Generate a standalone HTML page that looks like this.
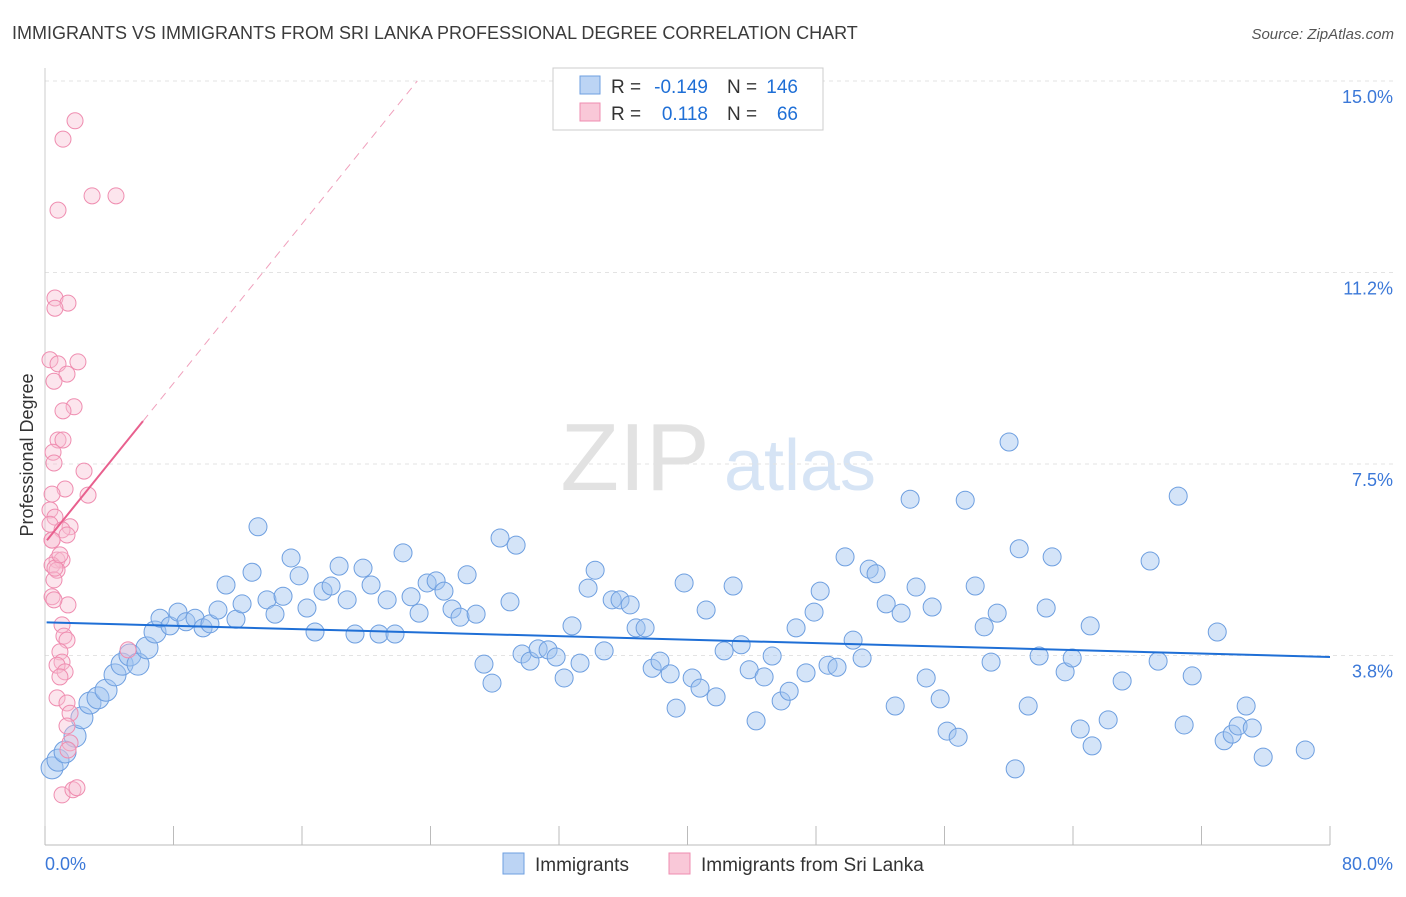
<!DOCTYPE html>
<html><head><meta charset="utf-8"><style>
body{margin:0;background:#fff;font-family:"Liberation Sans",sans-serif;}
svg text{font-family:"Liberation Sans",sans-serif;}
</style></head><body>
<svg id="chart" width="1406" height="892" xmlns="http://www.w3.org/2000/svg">
<text x="12" y="39" font-size="18" fill="#3b3b3b">IMMIGRANTS VS IMMIGRANTS FROM SRI LANKA PROFESSIONAL DEGREE CORRELATION CHART</text>
<text x="1394" y="39" font-size="15" fill="#555" text-anchor="end" font-style="italic">Source: ZipAtlas.com</text>
<g>
<text x="635" y="490" font-size="96" fill="#e2e2e2" text-anchor="middle" font-family="Liberation Serif">ZIP</text>
<text x="800" y="490" font-size="72" fill="#d6e4f5" text-anchor="middle">atlas</text>
</g>
<g id="grid"></g>
<g id="axes"></g>
<g id="marks"></g>
<text transform="translate(33,455) rotate(-90)" font-size="18" fill="#333" text-anchor="middle">Professional Degree</text>
<g>
<rect x="553" y="68" width="270" height="62" fill="#fff" stroke="#ccc"/>
<rect x="580" y="76" width="20" height="18" fill="#bcd4f4" stroke="#6e9fe0"/>
<rect x="580" y="103" width="20" height="18" fill="#f9c8d8" stroke="#ef8db0"/>
<text x="611" y="93" font-size="19" fill="#333">R =</text>
<text x="708" y="93" font-size="19" fill="#1f6fd6" text-anchor="end">-0.149</text>
<text x="727" y="93" font-size="19" fill="#333">N =</text>
<text x="798" y="93" font-size="19" fill="#1f6fd6" text-anchor="end">146</text>
<text x="611" y="120" font-size="19" fill="#333">R =</text>
<text x="708" y="120" font-size="19" fill="#1f6fd6" text-anchor="end">0.118</text>
<text x="727" y="120" font-size="19" fill="#333">N =</text>
<text x="798" y="120" font-size="19" fill="#1f6fd6" text-anchor="end">66</text>
</g>
<g>
<rect x="503" y="853" width="21" height="21" fill="#bcd4f4" stroke="#6e9fe0"/>
<text x="535" y="871" font-size="19" fill="#333">Immigrants</text>
<rect x="669" y="853" width="21" height="21" fill="#f9c8d8" stroke="#ef8db0"/>
<text x="701" y="871" font-size="19" fill="#333">Immigrants from Sri Lanka</text>
</g>
</svg>
<script>
const blueX=[0.44,0.81,1.25,1.87,2.30,2.80,3.30,3.80,4.36,4.80,5.29,5.79,6.35,6.85,7.16,7.78,8.28,8.78,9.34,9.84,10.27,10.77,11.27,11.89,12.27,12.89,13.26,13.82,14.32,14.82,15.32,15.82,16.31,16.81,17.31,17.81,18.31,18.81,19.30,19.80,20.30,20.80,21.30,21.79,22.29,22.79,23.29,23.79,24.35,24.84,25.34,25.84,26.28,26.84,27.33,27.83,28.33,28.95,29.33,29.70,30.20,30.70,31.32,31.82,32.32,32.81,33.31,33.81,34.25,34.81,35.31,35.80,36.43,36.80,37.36,37.80,38.29,38.92,39.29,39.79,40.29,40.78,41.16,41.78,42.28,42.84,43.34,43.84,44.27,44.77,45.27,45.83,46.33,46.76,47.38,47.88,48.26,48.75,49.31,49.81,50.31,50.87,51.31,51.74,52.37,52.93,53.30,53.86,54.23,54.86,55.23,55.73,56.16,56.85,57.29,57.91,58.47,58.90,59.28,60.02,60.40,60.65,61.21,61.89,62.33,62.70,63.51,63.95,64.45,65.07,65.19,66.19,67.06,68.80,69.30,70.55,70.92,71.42,72.98,73.41,73.91,74.28,74.78,75.16,75.84,78.46];
const blueY=[1.55,1.70,1.86,2.17,2.53,2.82,2.92,3.07,3.37,3.58,3.76,3.58,3.90,4.21,4.48,4.33,4.60,4.41,4.48,4.29,4.37,4.64,5.13,4.46,4.76,5.38,6.27,4.84,4.56,4.91,5.66,5.31,4.68,4.21,5.01,5.11,5.50,4.84,4.17,5.46,5.13,4.17,4.84,4.17,5.76,4.90,4.58,5.17,5.21,5.01,4.66,4.50,5.33,4.56,3.58,3.21,6.05,4.80,5.91,3.78,3.64,3.88,3.86,3.72,3.31,4.33,3.60,5.07,5.42,3.84,4.84,4.84,4.74,4.29,4.29,3.50,3.64,3.39,2.72,5.17,3.31,3.11,4.64,2.94,3.84,5.11,3.96,3.47,2.47,3.33,3.74,2.86,3.05,4.29,3.41,4.60,5.01,3.56,3.52,5.68,4.05,3.70,5.44,5.35,4.76,2.76,4.58,6.81,5.09,3.31,4.70,2.90,2.27,2.15,6.79,5.11,4.31,3.62,4.58,7.93,1.53,5.84,2.76,3.74,4.68,5.68,3.43,3.70,2.31,4.33,1.98,2.49,3.25,5.60,3.64,6.87,2.39,3.35,4.21,2.08,2.21,2.37,2.76,2.33,1.76,1.90];
const pinkX=[1.87,1.12,2.93,4.42,0.81,0.62,1.43,0.62,0.31,0.81,2.05,1.37,0.56,1.81,1.12,0.81,1.12,0.50,0.56,2.43,1.25,2.68,0.44,0.31,0.62,0.31,1.56,1.06,1.37,0.44,0.75,1.06,0.44,0.75,0.56,0.44,1.43,0.56,1.06,1.18,1.37,0.93,1.06,0.75,1.25,0.93,5.17,0.75,1.37,1.56,1.37,1.56,1.43,1.06,1.74,1.99,0.44,0.62,0.93];
const pinkY=[14.22,13.86,12.75,12.75,12.47,10.75,10.65,10.55,9.54,9.46,9.50,9.26,9.12,8.62,8.54,7.97,7.97,7.73,7.52,7.36,7.01,6.89,6.91,6.60,6.46,6.32,6.27,6.21,6.11,6.01,5.62,5.62,5.52,5.42,5.23,4.90,4.74,4.84,4.35,4.13,4.05,3.82,3.62,3.56,3.43,3.33,3.86,2.92,2.82,2.62,2.37,2.04,1.90,1.02,1.12,1.16,6.01,5.46,5.72];
const yTicks=[3.75,7.5,11.25,15];
const yTickLabels=["3.8%","7.5%","11.2%","15.0%"];
const xTicks=[0,8,16,24,32,40,48,56,64,72,80];
const blueTrend=[4.40,3.72];
const pinkTrend=[5.96,0.39];

const NS="http://www.w3.org/2000/svg";
const sx=v=>45+v/80*1285;
const sy=v=>847-v*51.07;
function mk(tag,attrs,parent){const e=document.createElementNS(NS,tag);for(const k in attrs)e.setAttribute(k,attrs[k]);parent.appendChild(e);return e;}
const grid=document.getElementById('grid'),axes=document.getElementById('axes'),marks=document.getElementById('marks');
yTicks.forEach((t,i)=>{
  const l=mk('line',{x1:45,x2:1394,y1:sy(t),y2:sy(t),stroke:'#e3e3e3','stroke-dasharray':'4,4'},grid);
  
  
  const tx=mk('text',{x:1393,y:sy(t)+22,'font-size':18,fill:'#3b78d8','text-anchor':'end'},axes);
  tx.textContent=yTickLabels[i];
  
  
});
const ax=mk('line',{x1:45,x2:1330,y1:845,y2:845,stroke:'#bbb'},axes);


const ay=mk('line',{x1:45,x2:45,y1:68,y2:845,stroke:'#ccc'},axes);


xTicks.forEach(t=>{
  const l=mk('line',{x1:sx(t),x2:sx(t),y1:826,y2:845,stroke:'#bbb'},axes);
  
  
});
const xl0=mk('text',{x:45,y:870,'font-size':18,fill:'#3b78d8'},axes);xl0.textContent=xTicks[0].toFixed(1)+"%";


const xl1=mk('text',{x:1393,y:870,'font-size':18,fill:'#3b78d8','text-anchor':'end'},axes);xl1.textContent=xTicks[xTicks.length-1].toFixed(1)+"%";



blueX.forEach((x,i)=>{
  const c=mk('circle',{cx:sx(x),cy:sy(blueY[i]),r:x<7?11:9,fill:'rgba(160,195,240,0.45)',stroke:'#6e9fe0','stroke-width':1},marks);
  
  
});
pinkX.forEach((x,i)=>{
  const c=mk('circle',{cx:sx(x),cy:sy(pinkY[i]),r:8,fill:'rgba(248,190,210,0.4)',stroke:'#ef8db0','stroke-width':1},marks);
  
  
});
const bt=mk('line',{x1:sx(0.1),y1:sy(blueTrend[0]+(blueTrend[1]-blueTrend[0])*0.1/80),x2:sx(80),y2:sy(blueTrend[1]),stroke:'#1f6fd6','stroke-width':2},marks);


const pf=v=>pinkTrend[0]+pinkTrend[1]*v;
const xEnd=(15-pinkTrend[0])/pinkTrend[1];
const pd=mk('line',{x1:sx(6.1),y1:sy(pf(6.1)),x2:sx(xEnd),y2:sy(15),stroke:'#f0a0bc','stroke-width':1,'stroke-dasharray':'8,6'},marks);


const ps=mk('line',{x1:sx(0.12),y1:sy(pf(0.12)),x2:sx(6.1),y2:sy(pf(6.1)),stroke:'#e8608e','stroke-width':2},marks);


const topGrid=mk('line',{x1:45,x2:1394,y1:81,y2:81,stroke:'#e3e3e3','stroke-dasharray':'4,4'},grid);


</script>
</body></html>
